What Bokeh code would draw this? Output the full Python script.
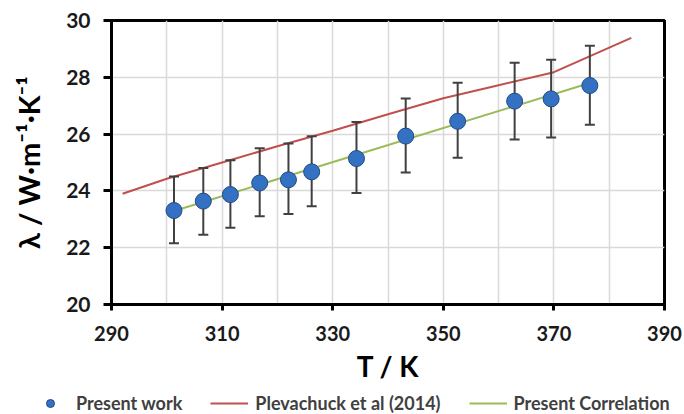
from bokeh.plotting import figure
from bokeh.layouts import column
from bokeh.models import (Range1d, FixedTicker, Legend, LegendItem, ColumnDataSource)
from bokeh.embed import file_html
from bokeh.resources import INLINE

# ---- data ----
T_exp = [301.3, 306.6, 311.5, 316.8, 322.0, 326.2, 334.3, 343.2, 352.6, 362.9, 369.5, 376.5]
lam_exp = [23.31, 23.64, 23.87, 24.28, 24.39, 24.67, 25.14, 25.93, 26.45, 27.16, 27.24, 27.71]
lam_upper = [24.51, 24.81, 25.08, 25.50, 25.67, 25.92, 26.43, 27.25, 27.81, 28.51, 28.62, 29.11]
lam_lower = [22.16, 22.46, 22.70, 23.11, 23.19, 23.46, 23.93, 24.65, 25.17, 25.81, 25.88, 26.33]

T_plev = [292, 300, 310, 320, 330, 340, 350, 360, 370, 384]
lam_plev = [23.90, 24.43, 25.00, 25.57, 26.12, 26.70, 27.26, 27.72, 28.18, 29.39]

T_corr = [301.3, 376.5]
lam_corr = [23.29, 27.80]

x_ticks = [290, 310, 330, 350, 370, 390]
x_grid = [290, 300, 310, 320, 330, 340, 350, 360, 370, 380, 390]
y_ticks = [20, 22, 24, 26, 28, 30]

series_names = ["Present work", "Plevachuck et al (2014)", "Present Correlation"]
x_title = "T / K"
y_title = "λ / W·m⁻¹·K⁻¹"

FONT = "Lato"
DOT = dict(marker="circle", size=16, fill_color="#3571c2", line_color="#1f4a85", line_width=1)
RED = dict(line_color="#c0504d", line_width=2)
GREEN = dict(line_color="#9bbb59", line_width=2)

p = figure(width=684, height=389, output_backend="svg", toolbar_location=None,
           x_range=Range1d(290, 390), y_range=Range1d(20, 30),
           min_border_left=111, min_border_right=20, min_border_top=20, min_border_bottom=85)
p.background_fill_color = "white"
p.border_fill_color = "white"
p.outline_line_color = "black"
p.outline_line_width = 3

# grid
p.xgrid.ticker = FixedTicker(ticks=x_grid)
p.ygrid.ticker = FixedTicker(ticks=y_ticks)
for g in (p.xgrid, p.ygrid):
    g.grid_line_color = "#d9d9d9"
    g.grid_line_width = 1.5

# axes
p.xaxis.ticker = FixedTicker(ticks=x_ticks)
p.yaxis.ticker = FixedTicker(ticks=y_ticks)
for ax in (p.xaxis, p.yaxis):
    ax.axis_line_color = "black"
    ax.axis_line_width = 3
    ax.major_tick_line_color = "black"
    ax.major_tick_line_width = 3
    ax.major_tick_in = 0
    ax.minor_tick_line_color = None
    ax.major_label_text_font = FONT
    ax.major_label_text_font_style = "bold"
    ax.major_label_text_color = "#1a1a1a"
    ax.axis_label_text_font = FONT
    ax.axis_label_text_font_style = "bold"
    ax.axis_label_text_color = "black"
p.xaxis.major_label_text_font_size = "20px"
p.xaxis.major_tick_out = 6
p.xaxis.major_label_standoff = 15
p.xaxis.axis_label = x_title
p.xaxis.axis_label_text_font_size = "28px"
p.xaxis.axis_label_standoff = 5
p.yaxis.major_label_text_font_size = "21px"
p.yaxis.major_tick_out = 8
p.yaxis.major_label_standoff = 13
p.yaxis.axis_label = y_title
p.yaxis.axis_label_text_font = "Lato, 'DejaVu Sans'"
p.yaxis.axis_label_text_font_size = "29px"
p.yaxis.axis_label_standoff = 17

# series
p.line(T_plev, lam_plev, **RED)
p.line(T_corr, lam_corr, **GREEN)

src = ColumnDataSource(dict(x=T_exp, y=lam_exp, up=lam_upper, lo=lam_lower))
p.segment(x0="x", y0="lo", x1="x", y1="up", source=src, line_color="#404040", line_width=2)
p.scatter(x="x", y="up", source=src, marker="dash", size=10, line_color="#404040", line_width=2)
p.scatter(x="x", y="lo", source=src, marker="dash", size=10, line_color="#404040", line_width=2)
p.scatter(x="x", y="y", source=src, **DOT)

# legend strip under the chart; its renderers carry the series' styles and data
# (their data fall outside this strip's ranges, so only the legend shows)
lg = figure(width=684, height=25, output_backend="svg", toolbar_location=None,
            x_axis_type=None, y_axis_type=None, x_range=Range1d(0, 1), y_range=Range1d(0, 1),
            min_border_left=0, min_border_right=0, min_border_top=0, min_border_bottom=0)
if "frame_align" in lg.properties():
    lg.frame_align = False
    legend_loc = (31, 0)
else:
    legend_loc = "bottom_center"
lg.outline_line_color = None
lg.grid.visible = False
lg.background_fill_color = "white"
lg.border_fill_color = "white"
r_dot = lg.scatter(x="x", y="y", source=src, **DOT)
r_red = lg.line(T_plev, lam_plev, **RED)
r_green = lg.line(T_corr, lam_corr, **GREEN)

legend = Legend(items=[LegendItem(label=series_names[0], renderers=[r_dot]),
                       LegendItem(label=series_names[1], renderers=[r_red]),
                       LegendItem(label=series_names[2], renderers=[r_green])],
                orientation="horizontal", location=legend_loc,
                label_text_font=FONT, label_text_font_style="bold",
                label_text_font_size="18px", label_text_color="#404040",
                glyph_width=38, glyph_height=20, spacing=28, label_standoff=7,
                padding=0, margin=0, border_line_color=None, background_fill_alpha=0)
lg.add_layout(legend, "center")

layout = column(p, lg, spacing=0)
open("out.html", "w").write(file_html(layout, INLINE))
